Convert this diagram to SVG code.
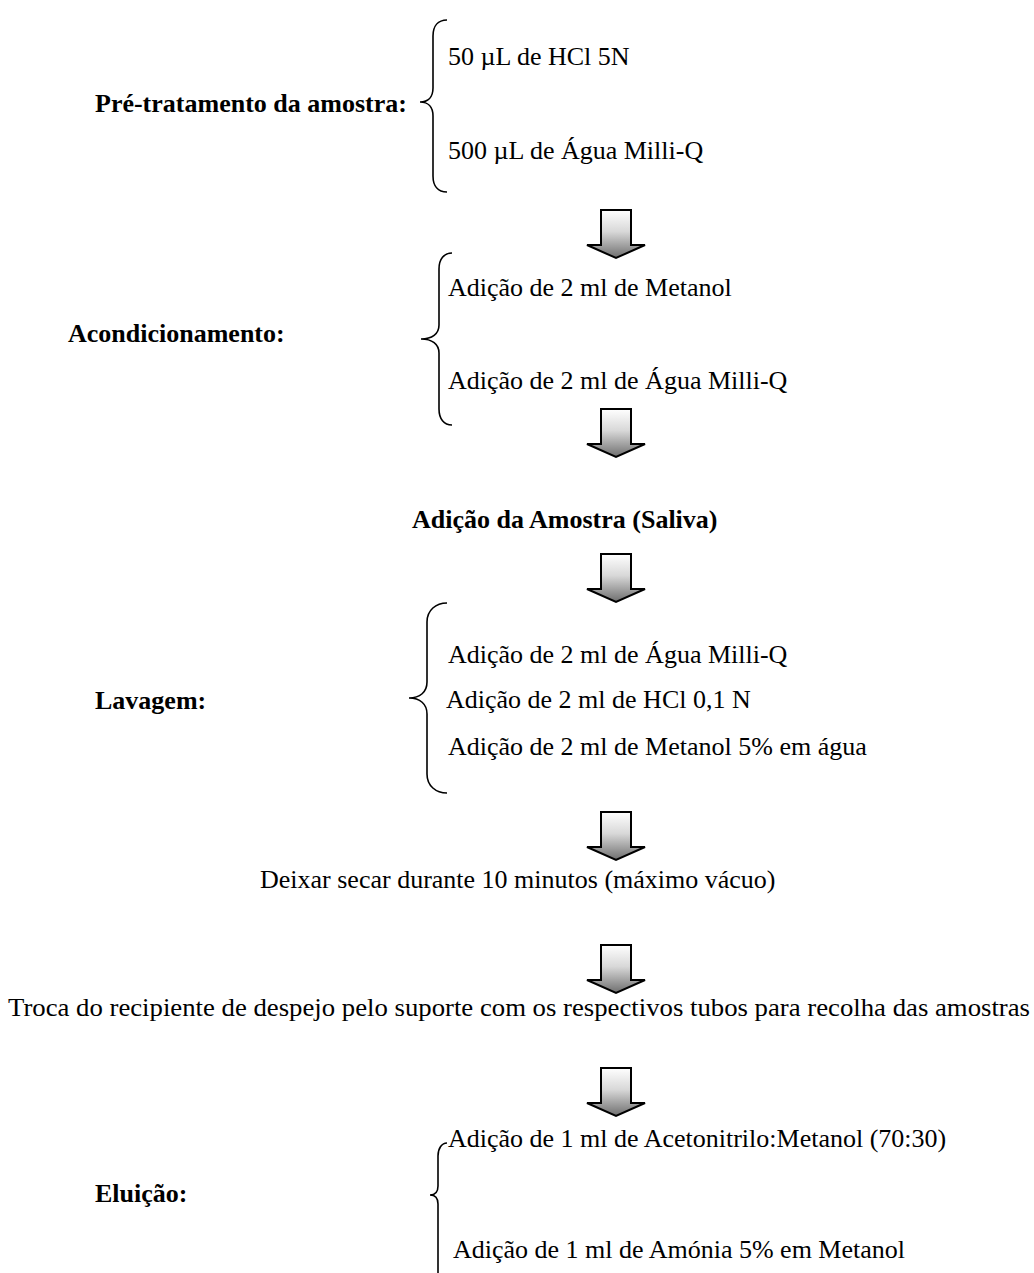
<svg xmlns="http://www.w3.org/2000/svg" width="1034" height="1273" viewBox="0 0 1034 1273">
<style>
text{font-family:"Liberation Serif","Times New Roman",serif;font-size:26px;fill:#000}
.b{font-weight:bold}
.brace{fill:none;stroke:#000;stroke-width:1.6}
.arrow{fill:url(#g);stroke:#000;stroke-width:2;stroke-linejoin:miter}
</style>
<defs>
<linearGradient id="g" x1="0" y1="0" x2="0" y2="1">
<stop offset="0" stop-color="#ffffff"/>
<stop offset="0.45" stop-color="#d8d8d8"/>
<stop offset="1" stop-color="#6e6e6e"/>
</linearGradient>
<path id="arr" d="M-15,0 H15 V35 H29 L0,48 L-29,35 H-15 Z"/>
</defs>
<rect width="1034" height="1273" fill="#fff"/>

<g id="pretratamento">
<text class="b" x="95" y="112">Pré-tratamento da amostra:</text>
<path class="brace" d="M447,20 C438,20 433,26 433,36 L433,88 C433,97 428,102 420,102 C428,102 433,107 433,116 L433,176 C433,186 438,192 447,192"/>
<text x="448" y="65">50 µL de HCl 5N</text>
<text x="448" y="159">500 µL de Água Milli-Q</text>
</g>

<g id="acondicionamento">
<text class="b" x="68" y="342">Acondicionamento:</text>
<path class="brace" d="M452,253 C444,253 439,259 439,269 L439,325 C439,334 432,339 421,339 C432,339 439,344 439,353 L439,409 C439,419 444,425 452,425"/>
<text x="448" y="296">Adição de 2 ml de Metanol</text>
<text x="448" y="389">Adição de 2 ml de Água Milli-Q</text>
</g>

<g id="adicao">
<text class="b" x="412" y="528">Adição da Amostra (Saliva)</text>
</g>

<g id="lavagem">
<text class="b" x="95" y="709">Lavagem:</text>
<path class="brace" d="M447,603 C436,603 427,610 427,622 L427,682 C427,692 420,698 409,698 C420,698 427,704 427,714 L427,774 C427,786 436,793 447,793"/>
<text x="448" y="663">Adição de 2 ml de Água Milli-Q</text>
<text x="446" y="708">Adição de 2 ml de HCl 0,1 N</text>
<text x="448" y="755">Adição de 2 ml de Metanol 5% em água</text>
</g>

<g id="secar">
<text x="260" y="888">Deixar secar durante 10 minutos (máximo vácuo)</text>
</g>

<g id="troca">
<text x="8" y="1016" textLength="1022" lengthAdjust="spacingAndGlyphs">Troca do recipiente de despejo pelo suporte com os respectivos tubos para recolha das amostras</text>
</g>

<g id="eluicao">
<text class="b" x="95" y="1202">Eluição:</text>
<path class="brace" d="M447,1143 C442,1143 438,1148 438,1156 L438,1186 C438,1192 435,1195 430,1195 C435,1195 438,1198 438,1204 L438,1273"/>
<text x="448" y="1147">Adição de 1 ml de Acetonitrilo:Metanol (70:30)</text>
<text x="453" y="1258">Adição de 1 ml de Amónia 5% em Metanol</text>
</g>

<g id="connectors">
<use href="#arr" class="arrow" x="616" y="210"/>
<use href="#arr" class="arrow" x="616" y="409"/>
<use href="#arr" class="arrow" x="616" y="554"/>
<use href="#arr" class="arrow" x="616" y="812"/>
<use href="#arr" class="arrow" x="616" y="945"/>
<use href="#arr" class="arrow" x="616" y="1068"/>
</g>
</svg>
